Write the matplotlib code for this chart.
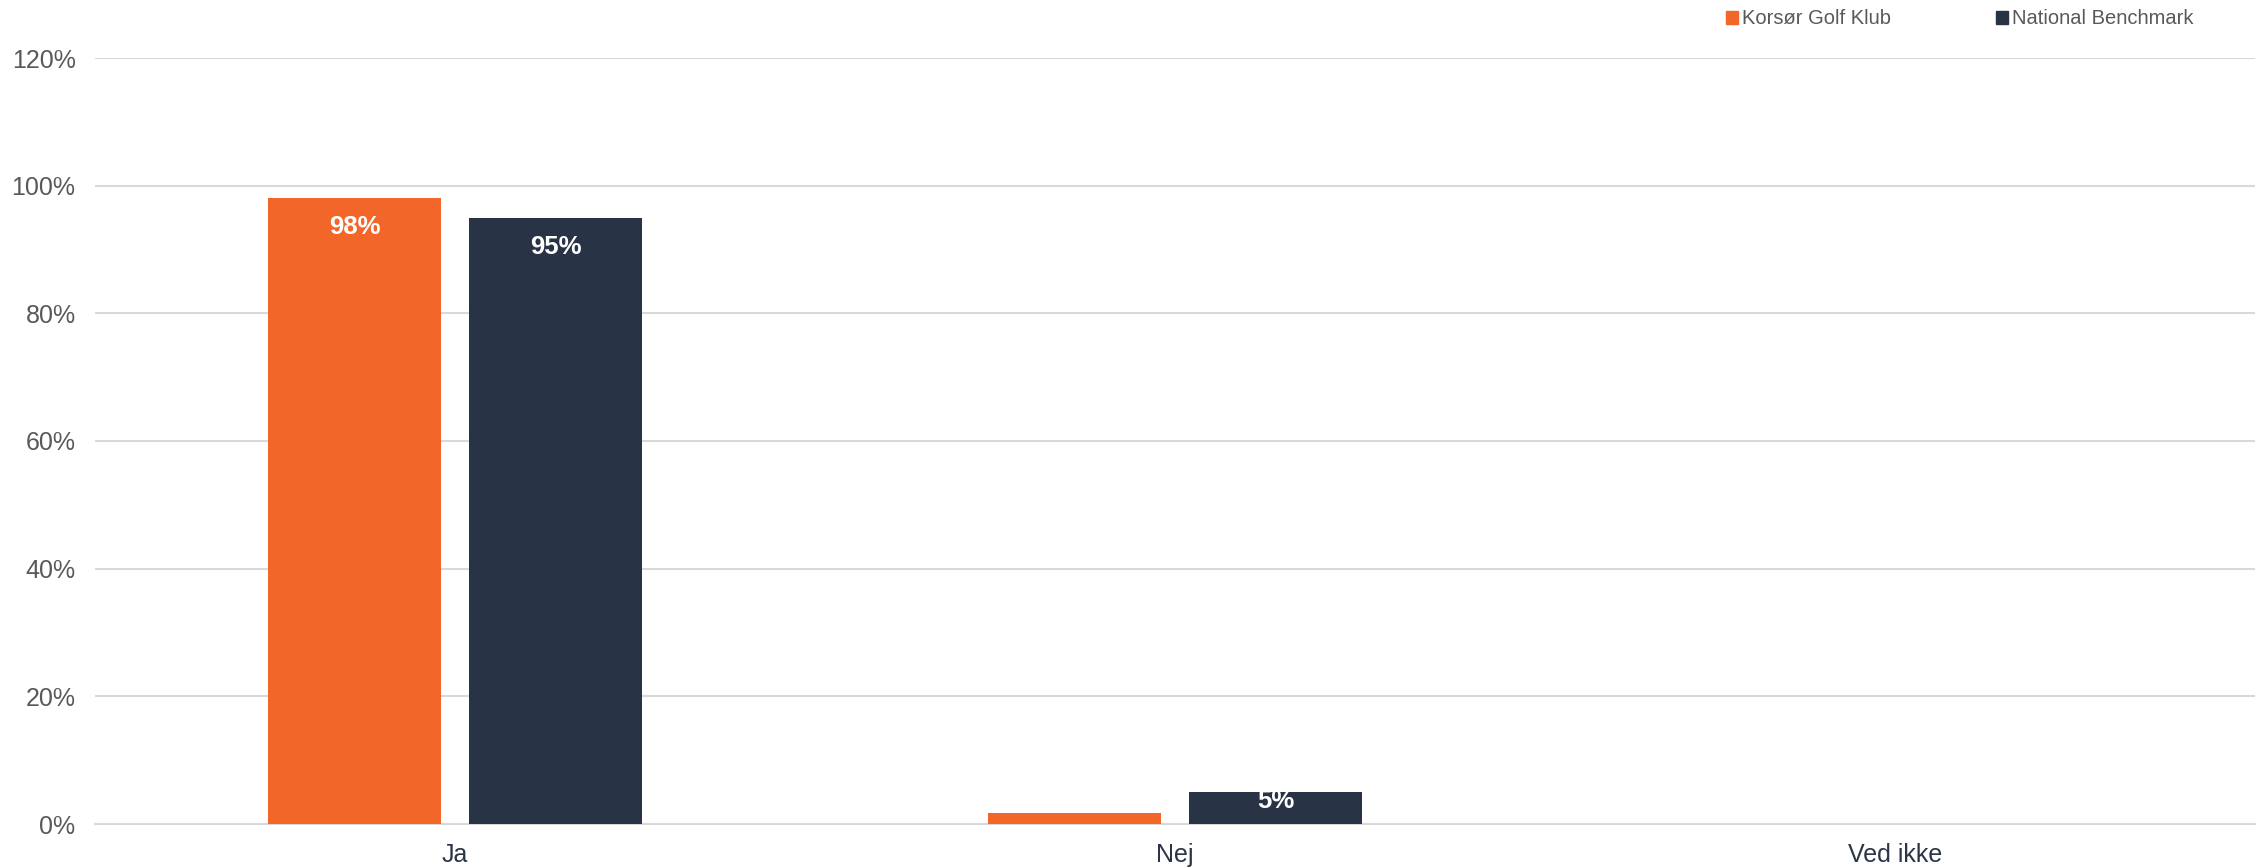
import matplotlib
matplotlib.use("Agg")
import matplotlib.pyplot as plt
import numpy as np
from matplotlib.patches import Patch

plt.rcParams["font.family"] = ["Liberation Sans", "DejaVu Sans"]

# ─── Data ─────────────────────────────────────────────────────────────────────
categories = ["Ja", "Nej", "Ved ikke"]
klub_vals = [98, 1.8, 0.05]
bench_vals = [95, 5, 0]
series_names = ["Korsør Golf Klub", "National Benchmark"]
yticks = [0, 20, 40, 60, 80, 100, 120]

ORANGE = "#F26729"
NAVY = "#283446"
GRID = "#D9D9D9"

# ─── Plot ─────────────────────────────────────────────────────────────────────
fig = plt.figure(figsize=(22.67, 8.68), dpi=100)
ax = fig.add_axes([95 / 2267, 1 - 824 / 868, (2255 - 95) / 2267, (824 - 58) / 868])

x = np.arange(len(categories))
w, off = 0.241, 0.1395
bars_k = ax.bar(x - off, klub_vals, w, color=ORANGE, zorder=3)
bars_b = ax.bar(x + off, bench_vals, w, color=NAVY, zorder=3)

for bars, vals in ((bars_k, klub_vals), (bars_b, bench_vals)):
    for b, v in zip(bars, vals):
        if v < 3:
            continue
        dy = -29 if v > 10 else -9
        ax.annotate(f"{v:.0f}%", (b.get_x() + b.get_width() / 2, v),
                    xytext=(0, dy), textcoords="offset pixels",
                    ha="center", va="center", color="white",
                    fontsize=18.5, fontweight="bold", zorder=4)

ax.set_xlim(-0.5, len(categories) - 0.5)
ax.set_ylim(0, 120)
ax.set_yticks(yticks)
ax.set_yticklabels([f"{t}%" for t in yticks], fontsize=18, color="#595959")
ax.set_xticks(x)
ax.set_xticklabels(categories, fontsize=18, color="#2A3547")
ax.tick_params(axis="y", length=0, pad=14)
ax.tick_params(axis="x", length=0, pad=14)
ax.yaxis.grid(True, color=GRID, lw=1.5, zorder=0)
for s in ("top", "right", "left"):
    ax.spines[s].set_visible(False)
ax.spines["bottom"].set_color(GRID)
ax.spines["bottom"].set_linewidth(1.5)

handles = [Patch(color=ORANGE), Patch(color=NAVY)]
fig.legend(handles, series_names, loc="center left",
           bbox_to_anchor=(1708 / 2267, 1 - 19 / 868), ncol=2, frameon=False,
           fontsize=14.5, handlelength=0.6, handleheight=0.6, handletextpad=0.2,
           columnspacing=5.2, labelcolor="#595959")

fig.savefig("out.png", dpi=100)
